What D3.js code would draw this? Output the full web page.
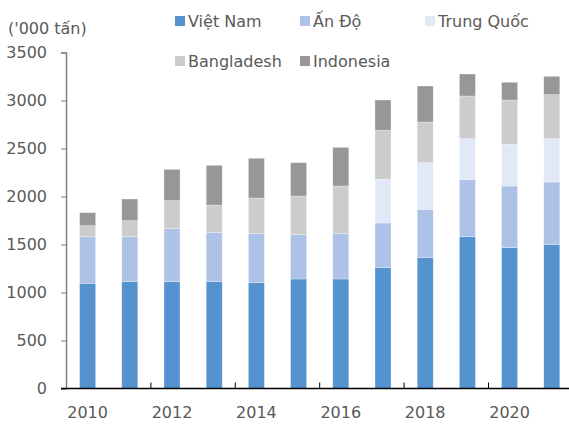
<!DOCTYPE html>
<html>

<head>
    <meta charset="utf-8">
    <title>D3</title>
    <script type="text/javascript" src="https://cdnjs.cloudflare.com/ajax/libs/d3/7.8.5/d3.min.js"></script>
    <style>
        body {
            margin: 0;
            background: #fff;
        }

        svg text {
            font-family: "DejaVu Sans", Verdana, sans-serif;
            font-size: 16px;
            fill: #595959;
        }
    </style>
</head>

<body>
    <div id="chart"></div>

    <script type="text/javascript">
        // data ('000 tấn)
        const years = [2010, 2011, 2012, 2013, 2014, 2015, 2016, 2017, 2018, 2019, 2020, 2021]
        const vietNam = [1096, 1113, 1113, 1113, 1102, 1141, 1141, 1258, 1366, 1581, 1467, 1502]
        const anDo = [485, 468, 552, 510, 510, 461, 471, 466, 500, 594, 642, 649]
        const trungQuoc = [0, 0, 0, 0, 0, 0, 0, 455, 486, 427, 435, 451]
        const bangladesh = [115, 167, 291, 288, 372, 403, 497, 510, 424, 445, 461, 458]
        const indonesia = [135, 226, 327, 414, 414, 347, 403, 316, 375, 229, 185, 192]

        const seriesNames = ["Việt Nam", "Ấn Độ", "Trung Quốc", "Bangladesh", "Indonesia"]
        const seriesColors = ["#5592d0", "#adc2e6", "#e1e8f7", "#cccccc", "#979797"]
        const yTicks = [0, 500, 1000, 1500, 2000, 2500, 3000, 3500]
        const xLabelYears = [2010, 2012, 2014, 2016, 2018, 2020]

        var width = 569, height = 425;

        var svg = d3.select('#chart').append('svg')
            .attr('width', width)
            .attr('height', height);

        var rows = years.map((y, i) => ({
            year: y,
            "Việt Nam": vietNam[i],
            "Ấn Độ": anDo[i],
            "Trung Quốc": trungQuoc[i],
            "Bangladesh": bangladesh[i],
            "Indonesia": indonesia[i]
        }));

        var stacked = d3.stack().keys(seriesNames)(rows);

        var x = d3.scaleBand()
            .domain(years)
            .range([66.5, 66.5 + 12 * 42.2])
            .paddingInner(0.62)
            .paddingOuter(0.31);

        var y = d3.scaleLinear()
            .domain([0, 3500])
            .range([388.5, 52.5]);

        // bars
        svg.append("g")
            .selectAll("g")
            .data(stacked)
            .enter()
            .append("g")
            .attr("fill", (d, i) => seriesColors[i])
            .selectAll("rect")
            .data(d => d)
            .enter()
            .append("rect")
            .attr("x", d => x(d.data.year))
            .attr("width", x.bandwidth())
            .attr("y", d => y(d[1]))
            .attr("height", d => y(d[0]) - y(d[1]))
            .attr("stroke", "#ffffff")
            .attr("stroke-opacity", 0.5)
            .attr("stroke-width", 0.6);

        // y axis
        var yAxis = svg.append("g")
            .attr("transform", "translate(66,0)")
            .call(d3.axisLeft(y).tickValues(yTicks).tickSize(5).tickPadding(14).tickFormat(d3.format("d")));
        yAxis.select(".domain").attr("stroke", "#7f7f7f").attr("stroke-width", 1.5);
        yAxis.selectAll(".tick line").attr("stroke", "#7f7f7f");
        yAxis.selectAll("text").attr("font-size", null).attr("font-family", null).attr("fill", null);

        // x axis: line, inner ticks every 2 years, labels under even years
        svg.append("line")
            .attr("x1", 61).attr("x2", width)
            .attr("y1", y(0)).attr("y2", y(0))
            .attr("stroke", "#000").attr("stroke-width", 1.3);

        svg.append("g")
            .selectAll("line")
            .data(xLabelYears.slice(1))
            .enter()
            .append("line")
            .attr("x1", d => x(d) - x.step() * x.paddingInner() / 2)
            .attr("x2", d => x(d) - x.step() * x.paddingInner() / 2)
            .attr("y1", y(0))
            .attr("y2", y(0) - 6)
            .attr("stroke", "#000");

        svg.append("g")
            .selectAll("text")
            .data(xLabelYears)
            .enter()
            .append("text")
            .attr("x", d => x(d) + x.bandwidth() / 2)
            .attr("y", 412)
            .attr("dy", "0.35em")
            .attr("text-anchor", "middle")
            .text(d => d);

        // unit label
        svg.append("text")
            .attr("x", 8)
            .attr("y", 28)
            .attr("dy", "0.35em")
            .text("('000 tấn)");

        // legend
        const legendPos = [[175, 21], [300, 21], [425, 21], [175, 61], [300, 61]];
        var legend = svg.append("g")
            .selectAll("g")
            .data(seriesNames)
            .enter()
            .append("g")
            .attr("transform", (d, i) => "translate(" + legendPos[i][0] + "," + legendPos[i][1] + ")");

        legend.append("rect")
            .attr("x", 0).attr("y", -5)
            .attr("width", 10).attr("height", 10)
            .attr("fill", (d, i) => seriesColors[i]);

        legend.append("text")
            .attr("x", 13)
            .attr("dy", "0.35em")
            .text(d => d);
    </script>
</body>

</html>
